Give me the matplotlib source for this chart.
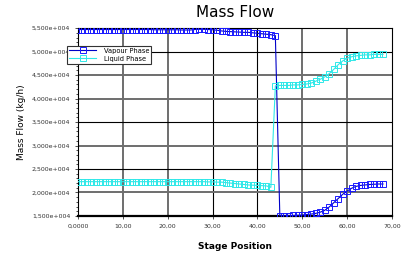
import matplotlib.pyplot as plt
from matplotlib.ticker import FuncFormatter, MultipleLocator

# stage numbers and mass flows
stages = list(range(0, 69))

vapour = [54700, 54700, 54700, 54700, 54700, 54700, 54700, 54700, 54700, 54700,
          54700, 54700, 54700, 54700, 54700, 54700, 54700, 54650, 54650, 54650,
          54650, 54650, 54650, 54600, 54600, 54600, 54700, 54750, 54750, 54700,
          54650, 54550, 54400, 54300, 54250, 54200, 54150, 54100, 54100, 54000,
          53900, 53800, 53700, 53600, 53400,
          15000, 15000, 15050, 15100, 15150, 15200, 15300, 15400, 15550, 15800,
          16200, 16900, 17800, 18700, 19600, 20300, 20900, 21300, 21500, 21600,
          21700, 21750, 21800, 21800]

liquid = [22300, 22300, 22300, 22300, 22300, 22300, 22300, 22300, 22300, 22300,
          22300, 22300, 22300, 22300, 22300, 22300, 22300, 22300, 22300, 22300,
          22300, 22300, 22300, 22300, 22300, 22300, 22300, 22300, 22300, 22250,
          22250, 22200, 22200, 22100, 22000, 21900, 21800, 21700, 21600, 21550,
          21500, 21450, 21400, 21100,
          42700, 42800, 42800, 42800, 42900, 42900, 43000, 43100, 43300, 43700,
          44100, 44600, 45300, 46200, 47200, 48000, 48600, 48900, 49100, 49200,
          49300, 49300, 49400, 49400, 49400]

# grid lines in the original alternate between black and grey
x_grid = {10: "g", 20: "g", 30: "k", 40: "k", 50: "g", 60: "g"}
y_grid = {20000: "g", 25000: "k", 30000: "g", 35000: "k", 40000: "g",
          45000: "g", 50000: "k"}

fig = plt.figure(figsize=(4.17, 2.58), dpi=100)
ax = fig.add_axes([0.187, 0.163, 0.753, 0.728])

for x, c in x_grid.items():
    if c == "k":
        ax.axvline(x, color="black", lw=0.8, zorder=1)
    else:
        ax.axvline(x, color="#6e6e6e", lw=1.4, zorder=1)
for y, c in y_grid.items():
    if c == "k":
        ax.axhline(y, color="black", lw=0.8, zorder=1)
    else:
        ax.axhline(y, color="#6e6e6e", lw=1.4, zorder=1)

ax.plot(stages, vapour, color="#0000c8", lw=0.8, marker="s", ms=4,
        mfc="none", mec="#1a1aff", mew=0.7, label="Vapour Phase", zorder=3)
ax.plot(stages, liquid, color="#30e8e8", lw=0.8, marker="s", ms=4,
        mfc="none", mew=0.7, label="Liquid Phase", zorder=3)

ax.set_xlim(0, 70)
ax.set_ylim(15000, 55000)
ax.xaxis.set_major_locator(MultipleLocator(10))
ax.yaxis.set_major_locator(MultipleLocator(5000))
ax.yaxis.set_minor_locator(MultipleLocator(1000))
ax.xaxis.set_major_formatter(FuncFormatter(
    lambda v, p: "0,0000" if v == 0 else f"{v:.2f}".replace(".", ",")))
ax.yaxis.set_major_formatter(FuncFormatter(
    lambda v, p: f"{v / 1e4:.3f}".replace(".", ",") + "e+004"))
ax.tick_params(labelsize=4.5, length=2, width=0.6, colors="#333333")
ax.tick_params(which="minor", length=1.2, width=0.5)

for side in ["top", "right", "left"]:
    ax.spines[side].set_linewidth(0.8)
ax.spines["bottom"].set_linewidth(1.6)

fig.text(0.565, 0.95, "Mass Flow", ha="center", va="center", fontsize=11)
ax.set_xlabel("Stage Position", fontsize=6.5, fontweight="bold", labelpad=10)
ax.set_ylabel("Mass Flow (kg/h)", fontsize=6.5, labelpad=4)

leg = ax.legend(loc="upper left", bbox_to_anchor=(-0.045, 0.925), fontsize=4.8,
                frameon=True, fancybox=False, edgecolor="#333333",
                framealpha=1, borderpad=0.3, handlelength=4,
                handletextpad=1.2, labelspacing=0.3)
leg.get_frame().set_linewidth(0.8)

fig.savefig("out.png", dpi=100)
